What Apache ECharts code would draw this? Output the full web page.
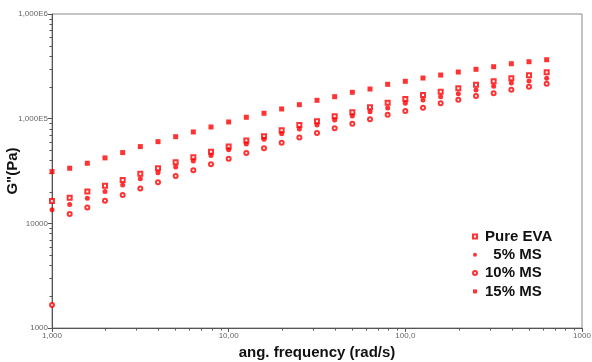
<!DOCTYPE html>
<html><head><meta charset="utf-8">
<script src="https://cdn.jsdelivr.net/npm/echarts@6/dist/echarts.min.js"></script>
<style>html,body{margin:0;padding:0;background:#fff}#c{width:592px;height:362px}</style>
</head><body><div id="c"></div>
<script>
const frequencies = [1.000,1.259,1.585,1.995,2.512,3.162,3.981,5.012,6.310,7.943,10.00,12.59,15.85,19.95,25.12,31.62,39.81,50.12,63.10,79.43,100.0,125.9,158.5,199.5,251.2,316.2,398.1,501.2,631.0];
const pureEVA = [16300,17600,20100,22900,26000,29700,33600,38400,42800,48400,54100,61700,67900,77500,87100,94500,105400,115100,128500,142100,154200,168400,181000,195000,211100,227500,242900,259500,277200];
const ms5 = [13500,15100,17400,20100,23200,26600,30500,34600,39500,44400,50600,57400,63600,71900,79700,87100,97200,106100,116700,126500,140300,150800,162200,173200,187900,203900,219100,228900,242900];
const ms10 = [1660,12300,14200,16400,18700,21500,24700,28400,32200,36700,41500,47100,52200,59000,65900,73100,81000,89600,98700,109200,118400,127400,140300,151800,164700,174800,189100,202000,215800];
const ms15 = [31200,33600,37500,42200,47400,54100,60300,67300,74700,83300,93000,103100,112600,123800,136000,149800,162200,178600,192000,212900,227500,244500,261200,279000,296100,313600,334900,349900,365600];
const seriesNames = ['Pure EVA','  5% MS','10% MS','15% MS'];
const xTickValues = [1,10,100,1000];
const xTickLabels = ['1,000','10,00','100,0','1000'];
const yTickValues = [1000,10000,100000,1000000];
const yTickLabels = ['1000','10000','1,000E5','1,000E6'];
const xMinorTicks = [2,3,4,5,6,7,8,9,20,30,40,50,60,70,80,90,200,300,400,500,600,700,800,900];
const yMinorTicks = [2000,3000,4000,5000,6000,7000,8000,9000,20000,30000,40000,50000,60000,70000,80000,90000,200000,300000,400000,500000,600000,700000,800000,900000];

function lookup(vals, labels, v){
  const e = Math.round(Math.log10(v));
  for (let i=0;i<vals.length;i++){ if (Math.round(Math.log10(vals[i]))===e) return labels[i]; }
  return '';
}
const pts = arr => frequencies.map((f,i)=>[f, arr[i]]);
const red = '#ff0000';
const chart = echarts.init(document.getElementById('c'), null, {renderer:'canvas'});
const axisCol = '#555';
const ff = 'Liberation Sans, Arial, sans-serif';
chart.setOption({
  animation:false,
  backgroundColor:'#fff',
  grid:{left:52,right:10,top:14,bottom:34,outerBoundsMode:'none',containLabel:false,show:true,borderColor:'#888',borderWidth:1,backgroundColor:'transparent'},
  legend:{
    orient:'vertical', left:467, top:224, itemWidth:4, itemHeight:4, itemGap:3.3,
    data:seriesNames,
    textStyle:{fontSize:15,fontWeight:'bold',color:'#111',fontFamily:ff,padding:[0,0,0,3]}
  },
  xAxis:{
    type:'log', logBase:10, min:1, max:1000,
    name:'ang. frequency (rad/s)', nameLocation:'middle', nameGap:17, nameMoveOverlap:false,
    nameTextStyle:{fontSize:15,fontWeight:'bold',color:'#111',fontFamily:ff},
    axisLine:{lineStyle:{color:axisCol,width:1}},
    axisTick:{show:true,length:4,lineStyle:{color:axisCol}},
    axisLabel:{fontSize:8,color:'#666',margin:4,fontFamily:ff,formatter:v=>lookup(xTickValues,xTickLabels,v)},
    splitLine:{show:false}
  },
  yAxis:{
    type:'log', logBase:10, min:1000, max:1000000,
    name:'G"(Pa)', nameLocation:'middle', nameGap:32, nameRotate:90, nameMoveOverlap:false,
    nameTextStyle:{fontSize:15,fontWeight:'bold',color:'#111',fontFamily:ff},
    axisLine:{lineStyle:{color:axisCol,width:1}},
    axisTick:{show:true,length:4,lineStyle:{color:axisCol}},
    axisLabel:{fontSize:8,color:'#666',margin:4,fontFamily:ff,formatter:v=>lookup(yTickValues,yTickLabels,v)},
    splitLine:{show:false}
  },
  series:[
    {name:seriesNames[0],type:'scatter',symbol:'emptyRect',symbolSize:4,itemStyle:{color:red,borderColor:red,borderWidth:1},data:pts(pureEVA)},
    {name:seriesNames[1],type:'scatter',symbol:'circle',symbolSize:5,itemStyle:{color:red},data:pts(ms5)},
    {name:seriesNames[2],type:'scatter',symbol:'emptyCircle',symbolSize:4,itemStyle:{color:red,borderColor:red,borderWidth:1},data:pts(ms10)},
    {name:seriesNames[3],type:'scatter',symbol:'rect',symbolSize:5,itemStyle:{color:red},data:pts(ms15)},
    {type:'custom',silent:true,clip:false,data:xMinorTicks.map(v=>[v,1000]),
      renderItem:(p,api)=>{const c=api.coord([api.value(0),api.value(1)]);const x=Math.round(c[0])+0.5;return {type:'line',shape:{x1:x,y1:c[1],x2:x,y2:c[1]+2.5},style:{stroke:axisCol,lineWidth:1}};}},
    {type:'custom',silent:true,clip:false,data:yMinorTicks.map(v=>[1,v]),
      renderItem:(p,api)=>{const c=api.coord([api.value(0),api.value(1)]);const y=Math.round(c[1])+0.5;return {type:'line',shape:{x1:c[0],y1:y,x2:c[0]-2.5,y2:y},style:{stroke:axisCol,lineWidth:1}};}}
  ]
});
</script></body></html>
